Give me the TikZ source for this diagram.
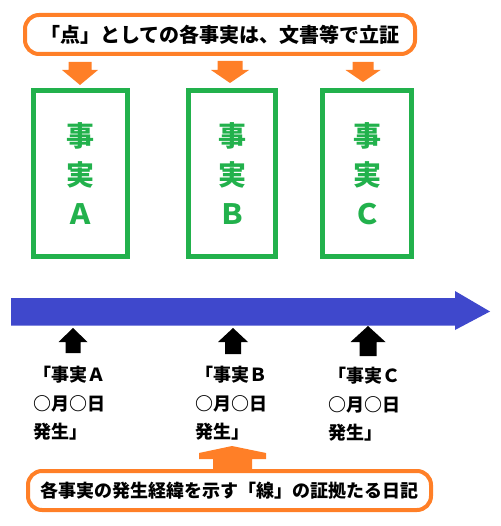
\documentclass[tikz,border=0pt]{standalone}
\usepackage{fontspec}
\setmainfont{Noto Sans CJK JP}
\usepackage{tikz}
\usetikzlibrary{positioning, calc}
\definecolor{paintorange}{RGB}{255, 127, 39}
\definecolor{paintgreen}{RGB}{34, 177, 76}
\definecolor{paintblue}{RGB}{63, 72, 204}

\begin{document}
\begin{tikzpicture}[x=1pt, y=-1pt,
    notebox/.style={draw=paintorange, line width=4pt, rounded corners=14pt, minimum height=39pt, inner sep=0pt},
    factbox/.style={draw=paintgreen, line width=5pt, minimum height=166pt, inner sep=0pt, align=center, text=paintgreen, font=\bfseries\fontsize{28}{39}\selectfont},
    evtext/.style={anchor=north west, align=left, inner sep=0pt, font=\bfseries\fontsize{18}{28.5}\selectfont}]
    \useasboundingbox (0,0) rectangle (500,526);

    % Caption on top (points)
    \node[notebox, minimum width=390pt, font=\bfseries\fontsize{20}{20}\selectfont] (points) at (220,34.5) {「点」としての各事実は、文書等で立証};

    % The facts
    \node[factbox, minimum width=94pt] (factA) at (80.5,173.5) {事\\実\\Ａ};
    \node[factbox, minimum width=87pt] (factB) at (232,173.5) {事\\実\\Ｂ};
    \node[factbox, minimum width=89pt] (factC) at (367,173.5) {事\\実\\Ｃ};

    % Orange arrows down to the facts
    \coordinate (tipA) at (80,85);
    \coordinate (tipB) at (230,83);
    \coordinate (tipC) at (363,82);
    \fill[paintorange] (tipA) -- ++(-18,-15) -- ++(6.5,0) -- ++(0,-8) -- ++(23,0) -- ++(0,8) -- ++(6.5,0) -- cycle;
    \fill[paintorange] (tipB) -- ++(-19,-13) -- ++(6.5,0) -- ++(0,-9) -- ++(25,0) -- ++(0,9) -- ++(6.5,0) -- cycle;
    \fill[paintorange] (tipC) -- ++(-17.5,-12) -- ++(7,0) -- ++(0,-8) -- ++(21,0) -- ++(0,8) -- ++(7,0) -- cycle;

    % The time line
    \coordinate (tlstart) at (11,311.5);
    \coordinate (tlend) at (490,311.5);
    \fill[paintblue] (tlstart) -- ++(0,-13.5) -- ++(444,0) -- ++(0,-7) -- (tlend) -- ++(-35,18.5) -- ++(0,-4.5) -- ++(-444,0) -- cycle;

    % Black arrows up to the time line
    \coordinate (upA) at (73,328);
    \coordinate (upB) at (233,328);
    \coordinate (upC) at (368,326);
    \fill (upA) -- ++(14.5,14) -- ++(-7,0) -- ++(0,11) -- ++(-15,0) -- ++(0,-11) -- ++(-7,0) -- cycle;
    \fill (upB) -- ++(15,14) -- ++(-7,0) -- ++(0,12) -- ++(-16,0) -- ++(0,-12) -- ++(-7,0) -- cycle;
    \fill (upC) -- ++(17.5,16) -- ++(-9,0) -- ++(0,14) -- ++(-17,0) -- ++(0,-14) -- ++(-9,0) -- cycle;

    % When each fact happened
    \node[evtext] (dateA) at (33,366) {「事実Ａ\\○月○日\\発生」};
    \node[evtext] (dateB) at (195,366) {「事実Ｂ\\○月○日\\発生」};
    \node[evtext] (dateC) at (328,367) {「事実Ｃ\\○月○日\\発生」};

    % Caption at the bottom (line)
    \node[notebox, minimum width=403pt, font=\bfseries\fontsize{18}{18}\selectfont] (line) at (229.5,490.5) {各事実の発生経緯を示す「線」の証拠たる日記};

    % Orange arrow up from the diary
    \coordinate (upD) at (232,446);
    \fill[paintorange] (upD) -- ++(34,7) -- ++(0,6) -- ++(-14,0) -- ++(0,10) -- ++(-39,0) -- ++(0,-10) -- ++(-14,0) -- ++(0,-6) -- cycle;
\end{tikzpicture}
\end{document}
